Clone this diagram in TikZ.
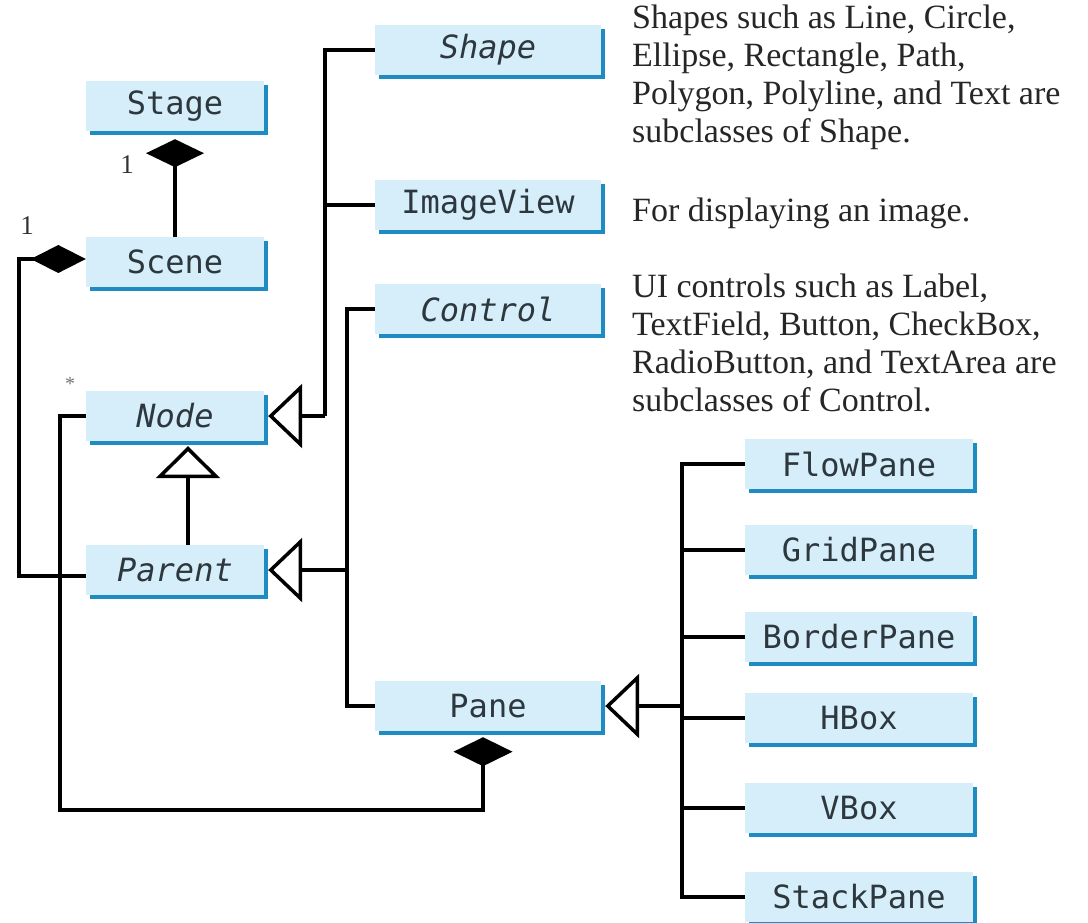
\documentclass[tikz,border=0pt]{standalone}
\usepackage{fontspec}
\setmainfont{Liberation Serif}
\newfontfamily\boxfont{DejaVu Sans Mono}
\usetikzlibrary{arrows.meta,shadows,calc}
\definecolor{boxfill}{RGB}{214,238,250}
\definecolor{boxedge}{RGB}{30,140,195}
\definecolor{boxtext}{RGB}{45,55,62}
\begin{document}
\begin{tikzpicture}[x=1pt,y=-1pt,
  cls/.style={rectangle, fill=boxfill, inner sep=0pt, minimum height=50pt, text=boxtext,
    font=\boxfont\fontsize{32}{32}\selectfont,
    drop shadow={shadow xshift=4pt, shadow yshift=-4pt, fill=boxedge, opacity=1}},
  abs/.style={cls, font=\boxfont\itshape\fontsize{32}{32}\selectfont},
  lcol/.style={minimum width=178pt},
  mcol/.style={minimum width=226pt},
  rcol/.style={minimum width=228pt},
  line/.style={draw=black, line width=3.5pt},
  inh/.style={line, -{Triangle[open, length=34pt, width=64pt]}},
  note/.style={anchor=north west, align=left, inner sep=0pt, font=\fontsize{34}{38}\selectfont, text=black!85},
  mult/.style={inner sep=0pt, font=\fontsize{27}{27}\selectfont, text=black!80},
]
\useasboundingbox (0,0) rectangle (1088,922);
\fill[white] (0,0) rectangle (1088,922);
\clip (0,0) rectangle (1088,922);

% left column
\node[cls,lcol] (Stage) at (175,106) {Stage};
\node[cls,lcol] (Scene) at (175,262) {Scene};
\node[abs,lcol] (Node) at (175,416) {Node};
\node[abs,lcol] (Parent) at (175,570) {Parent};
% middle column
\node[abs,mcol] (Shape) at (488,50) {Shape};
\node[cls,mcol] (ImageView) at (488,205) {ImageView};
\node[abs,mcol] (Control) at (488,309) {Control};
\node[cls,mcol] (Pane) at (488,706) {Pane};
% right column
\node[cls,rcol] (FlowPane) at (859,464) {FlowPane};
\node[cls,rcol] (GridPane) at (859,550) {GridPane};
\node[cls,rcol] (BorderPane) at (859,637) {BorderPane};
\node[cls,rcol] (HBox) at (859,718) {HBox};
\node[cls,rcol] (VBox) at (859,808) {VBox};
\node[cls,rcol] (StackPane) at (859,897) {StackPane};

% notes
\node[note] (n1) at (632,5) {Shapes such as Line, Circle,\\Ellipse, Rectangle, Path,\\Polygon, Polyline, and Text are\\subclasses of Shape.};
\node[note] (n2) at (632,198) {For displaying an image.};
\node[note] (n3) at (632,274) {UI controls such as Label,\\TextField, Button, CheckBox,\\RadioButton, and TextArea are\\subclasses of Control.};

% multiplicities
\node[mult] (m1) at (127,165) {1};
\node[mult] (m2) at (27,226) {1};
\node[inner sep=0pt, font=\fontsize{20}{20}\selectfont, text=black!55] (m3) at (70,384) {*};

% compositions
\draw[line, {Diamond[length=28pt,width=58pt]}-, shorten <=8pt] (Stage.south) -- (Scene.north);
\draw[line, {Diamond[length=55pt,width=28pt]}-] ([yshift=3pt]Scene.west) -- ++(-67,0) |- ([yshift=-6pt]Parent.west);
\coordinate (b1) at (60,810);
\draw[line, {Diamond[length=29pt,width=59pt]}-, shorten <=6pt] ([xshift=-5pt]Pane.south) |- (b1) |- (Node.west);

% inheritance
\draw[line, -{Triangle[open, length=32pt, width=64pt]}] ([xshift=13pt]Parent.north) -- ([xshift=13pt,yshift=-5pt]Node.south);
\coordinate (t1) at (325,416);
\draw[line] (Shape.west) -| (t1);
\draw[line] (ImageView.west) -- (ImageView.west -| t1);
\draw[inh] (t1) -- ([xshift=4pt]Node.east);

\coordinate (t2) at (347,0);
\draw[line] (Control.west) -| (Pane.west -| t2) -- (Pane.west);
\draw[inh] (Parent.east -| t2) -- ([xshift=4pt]Parent.east);

\coordinate (t3) at (682,0);
\draw[line] (FlowPane.west) -| (StackPane.west -| t3) -- (StackPane.west);
\draw[line] (GridPane.west) -- (GridPane.west -| t3);
\draw[line] (BorderPane.west) -- (BorderPane.west -| t3);
\draw[line] (HBox.west) -- (HBox.west -| t3);
\draw[line] (VBox.west) -- (VBox.west -| t3);
\draw[inh] (Pane.east -| t3) -- ([xshift=4pt]Pane.east);
\end{tikzpicture}
\end{document}
